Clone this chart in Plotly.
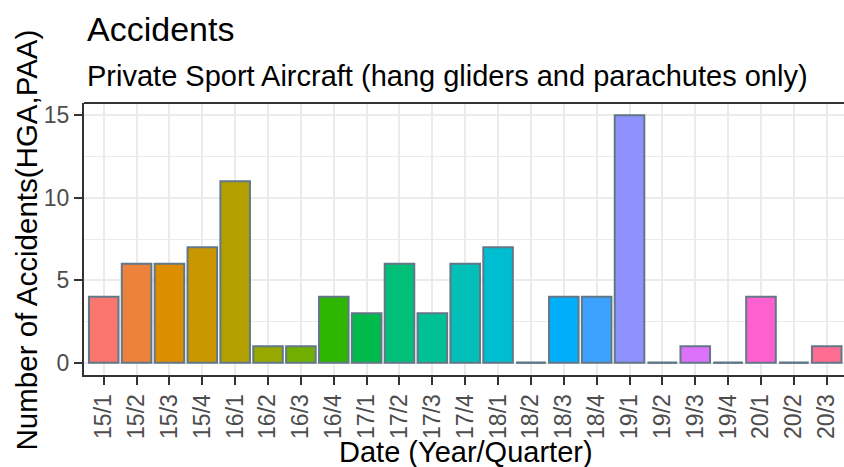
import math
import plotly.graph_objects as go

quarters = ["15/1", "15/2", "15/3", "15/4", "16/1", "16/2", "16/3", "16/4",
            "17/1", "17/2", "17/3", "17/4", "18/1", "18/2", "18/3", "18/4",
            "19/1", "19/2", "19/3", "19/4", "20/1", "20/2", "20/3"]
accidents = [4, 6, 6, 7, 11, 1, 1, 4, 3, 6, 3, 6, 7, 0, 4, 4, 15, 0, 1, 0, 4, 0, 1]
y_ticks = [0, 5, 10, 15]

title = "Accidents"
subtitle = "Private Sport Aircraft (hang gliders and parachutes only)"
x_title = "Date (Year/Quarter)"
y_title = "Number of Accidents(HGA,PAA)"


def hcl_hex(h, c=100.0, l=65.0):
    hr = math.radians(h)
    U, V = c * math.cos(hr), c * math.sin(hr)
    Xn, Yn, Zn = 95.047, 100.0, 108.883
    Y = Yn * ((l + 16) / 116) ** 3 if l > 8 else Yn * l / 903.3
    den = Xn + 15 * Yn + 3 * Zn
    un, vn = 4 * Xn / den, 9 * Yn / den
    u = U / (13 * l) + un
    v = V / (13 * l) + vn
    X = 9 * Y * u / (4 * v)
    Z = -X / 3 - 5 * Y + 3 * Y / v
    X, Y, Z = X / 100, Y / 100, Z / 100
    r = 3.240479 * X - 1.537150 * Y - 0.498535 * Z
    g = -0.969256 * X + 1.875992 * Y + 0.041556 * Z
    b = 0.055648 * X - 0.204043 * Y + 1.057311 * Z

    def gam(t):
        t = 12.92 * t if t <= 0.0031308 else 1.055 * t ** (1 / 2.4) - 0.055
        return max(0, min(255, round(t * 255)))
    return "#%02X%02X%02X" % (gam(r), gam(g), gam(b))


n = len(quarters)
hues = [15 + 360 * i / n for i in range(n)]
colors = [hcl_hex(h) for h in hues]

OUTLINE = "#627888"
FONT = "Liberation Sans, Arial, sans-serif"

fig = go.Figure()
fig.add_trace(go.Bar(
    x=quarters, y=accidents,
    marker=dict(color=colors, line=dict(color=OUTLINE, width=2)),
    width=0.9, showlegend=False, hoverinfo="x+y",
))

# zero-height bars drawn as their outline (as ggplot does)
shapes = []
for i, v in enumerate(accidents):
    if v == 0:
        shapes.append(dict(type="line", xref="x", yref="y",
                           x0=i - 0.45, x1=i + 0.45, y0=0, y1=0,
                           line=dict(color=OUTLINE, width=2), layer="above"))
# top border of the panel
shapes.append(dict(type="line", xref="paper", yref="paper", x0=0, x1=1, y0=1, y1=1,
                   line=dict(color="#333333", width=2), layer="above"))

W, H = 844, 467
ml, mt, mb = 83.6, 103.4, 92.4
ph = H - mt - mb
pw = W - ml


def py(pix):
    return (H - mb - pix) / ph


def px(pix):
    return (pix - ml) / pw


right_edge = (n - 1) + (W - 826.7) / 32.88

fig.update_layout(
    template="none",
    width=W, height=H,
    margin=dict(l=ml, r=0, t=mt, b=mb, pad=0, autoexpand=False),
    paper_bgcolor="white", plot_bgcolor="white",
    font=dict(family=FONT, color="black"),
    bargap=0.1,
    shapes=shapes,
    xaxis=dict(
        type="category", range=[-0.6, right_edge], automargin=False,
        showgrid=True, gridcolor="#EBEBEB", gridwidth=2,
        showline=True, linecolor="#333333", linewidth=2,
        ticks="outside", ticklen=8, tickwidth=2, tickcolor="#333333",
        tickangle=-90, tickfont=dict(size=23, color="#4D4D4D", family=FONT),
        zeroline=False, fixedrange=True,
    ),
    yaxis=dict(
        range=[-0.75, 15.75], tickvals=y_ticks, automargin=False,
        showgrid=True, gridcolor="#EBEBEB", gridwidth=2,
        minor=dict(tickvals=[2.5, 7.5, 12.5], showgrid=True, gridcolor="#EBEBEB",
                   gridwidth=1, ticks=""),
        showline=True, linecolor="#333333", linewidth=2,
        ticks="outside", ticklen=8, tickwidth=2, tickcolor="#333333",
        tickfont=dict(size=23, color="#4D4D4D", family=FONT),
        zeroline=False, fixedrange=True,
    ),
    annotations=[
        dict(text=title, xref="paper", yref="paper", x=px(85), y=py(30),
             xanchor="left", yanchor="middle", showarrow=False,
             font=dict(size=34, color="black", family=FONT)),
        dict(text=subtitle, xref="paper", yref="paper", x=px(85), y=py(76),
             xanchor="left", yanchor="middle", showarrow=False,
             font=dict(size=29, color="black", family=FONT)),
        dict(text=x_title, xref="paper", yref="paper", x=px(466), y=py(451),
             xanchor="center", yanchor="middle", showarrow=False,
             font=dict(size=29, color="black", family=FONT)),
        dict(text=y_title, xref="paper", yref="paper", x=px(26), y=py(240),
             xanchor="center", yanchor="middle", textangle=-90, showarrow=False,
             font=dict(size=29.5, color="black", family=FONT)),
    ],
)

fig.write_html("out.html", config=dict(displayModeBar=False),
               post_script="document.body.style.margin='0';document.body.style.overflow='hidden';")
